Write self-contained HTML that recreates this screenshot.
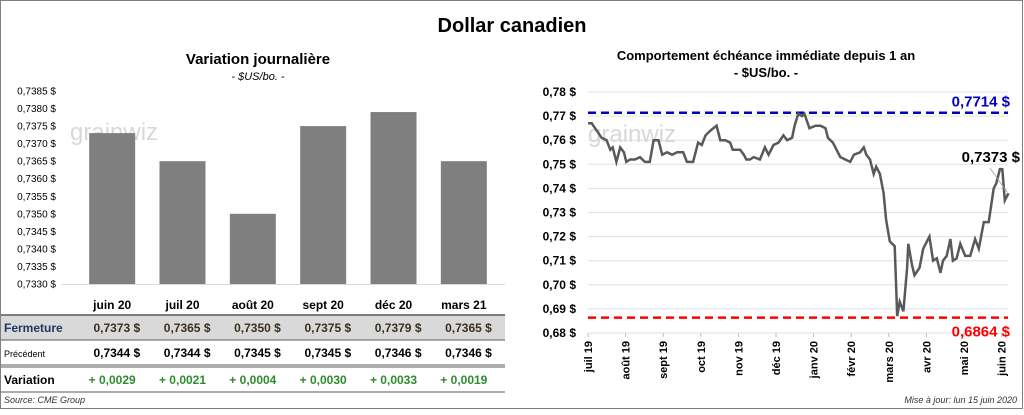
<!DOCTYPE html>
<html><head><meta charset="utf-8"><style>
body{margin:0;background:#fff;font-family:"Liberation Sans",sans-serif}
svg text{font-family:"Liberation Sans",sans-serif}
</style></head><body>
<svg id="s" width="1024" height="410" viewBox="0 0 1024 410" xmlns="http://www.w3.org/2000/svg">
<rect x="0.5" y="0.5" width="1022" height="408" fill="#fff" stroke="#7f7f7f"/>
<text x="512" y="32" text-anchor="middle" font-size="20" font-weight="bold">Dollar canadien</text>
<text x="258" y="64" text-anchor="middle" font-size="15" font-weight="bold">Variation  journalière</text>
<text x="258" y="80" text-anchor="middle" font-size="11" font-style="italic">- $US/bo. -</text>
<text x="766" y="60" text-anchor="middle" font-size="13" font-weight="bold">Comportement échéance immédiate depuis 1 an</text>
<text x="766" y="77" text-anchor="middle" font-size="13" font-weight="bold">- $US/bo. -</text>
<g id="left"></g>
<g id="right"></g>
<g id="table"></g>
<text x="4" y="403" font-size="9" font-style="italic" fill="#333">Source: CME Group</text>
<text x="1017" y="403" text-anchor="end" font-size="9" font-style="italic" fill="#333">Mise à jour: lun 15 juin 2020</text>
</svg>
<script>
const months=["juin 20","juil 20","août 20","sept 20","déc 20","mars 21"];
const closeVals=[0.7373,0.7365,0.7350,0.7375,0.7379,0.7365];
const prevVals=[0.7344,0.7344,0.7345,0.7345,0.7346,0.7346];
const changeVals=[0.0029,0.0021,0.0004,0.0030,0.0033,0.0019];
const leftTicks=[0.7330,0.7335,0.7340,0.7345,0.7350,0.7355,0.7360,0.7365,0.7370,0.7375,0.7380,0.7385];
const lineMonths=["juil 19","août 19","sept 19","oct 19","nov 19","déc 19","janv 20","févr 20","mars 20","avr 20","mai 20","juin 20"];
const lineDays=[0,3,7,11,15,18,20,23,26,29,31,34,38,42,46,50,53,57,60,64,68,72,77,80,85,89,92,95,99,104,107,111,115,117,123,126,128,131,134,139,143,146,150,154,158,161,165,167,170,173,175,179,184,188,192,194,198,204,208,212,215,220,223,225,228,231,233,236,239,241,244,248,250,252,255,258,259,262,264,268,271,274,276,279,282,285,287,290,293,295,298,301,305,309,313,316,320,324,328,330,333,335,337,340];
const lineVals=[0.767,0.767,0.764,0.761,0.760,0.756,0.757,0.751,0.757,0.755,0.751,0.752,0.752,0.753,0.751,0.751,0.760,0.760,0.754,0.755,0.754,0.755,0.755,0.751,0.751,0.759,0.758,0.762,0.764,0.766,0.760,0.760,0.759,0.756,0.756,0.754,0.752,0.752,0.753,0.752,0.757,0.754,0.758,0.759,0.762,0.760,0.761,0.766,0.771,0.770,0.771,0.765,0.766,0.766,0.765,0.761,0.759,0.753,0.752,0.751,0.754,0.755,0.757,0.754,0.752,0.746,0.749,0.746,0.738,0.727,0.718,0.716,0.687,0.693,0.689,0.707,0.717,0.708,0.704,0.707,0.715,0.718,0.720,0.710,0.711,0.705,0.710,0.712,0.719,0.710,0.711,0.717,0.712,0.712,0.719,0.715,0.726,0.726,0.740,0.742,0.748,0.748,0.735,0.738];
const rightTicks=[0.68,0.69,0.70,0.71,0.72,0.73,0.74,0.75,0.76,0.77,0.78];
const highVal=0.7714, lowVal=0.6864, lastVal=0.7373;

const NS="http://www.w3.org/2000/svg";
function mk(p,t,a,txt){const e=document.createElementNS(NS,t);for(const k in a)e.setAttribute(k,a[k]);if(txt!==undefined)e.textContent=txt;p.appendChild(e);return e;}
const fmt=(v,d)=>v.toFixed(d).replace('.',',');

// left chart
const L=document.getElementById('left');
const ly=v=>284-(v-0.7330)/0.0055*193;
const lx0=77,lx1=499,bw=(lx1-lx0)/months.length;
leftTicks.forEach(t=>{const e=mk(L,'text',{x:56,y:ly(t)+3.5,'text-anchor':'end','font-size':10},fmt(t,4)+' $');
});
mk(L,'text',{x:70,y:140,'font-size':24,fill:'#d8d8d8'},'grainwiz');
months.forEach((m,i)=>{const cx=lx0+bw*(i+0.5);
const b=mk(L,'rect',{x:cx-23,y:ly(closeVals[i]),width:46,height:284-ly(closeVals[i]),fill:'#7f7f7f'});

const t=mk(L,'text',{x:cx,y:309,'text-anchor':'middle','font-size':12,'font-weight':'bold'},m);
});
mk(L,'line',{x1:62,x2:505,y1:284.5,y2:284.5,stroke:'#d9d9d9'});

// table
const T=document.getElementById('table');
mk(T,'rect',{x:1,y:315,width:504,height:25,fill:'#d9d9d9'});
mk(T,'line',{x1:1,x2:505,y1:315,y2:315,stroke:'#595959','stroke-width':1.5});
mk(T,'line',{x1:1,x2:505,y1:340,y2:340,stroke:'#595959','stroke-width':1});
mk(T,'line',{x1:1,x2:505,y1:365,y2:365,stroke:'#595959','stroke-width':1});
mk(T,'line',{x1:1,x2:505,y1:367,y2:367,stroke:'#595959','stroke-width':1});
mk(T,'line',{x1:1,x2:505,y1:392,y2:392,stroke:'#595959','stroke-width':1});
let e=mk(T,'text',{x:4,y:332,'font-size':12,'font-weight':'bold',fill:'#1f3864'},'Fermeture');
e=mk(T,'text',{x:4,y:357,'font-size':9},'Précédent');
e=mk(T,'text',{x:4,y:384,'font-size':12,'font-weight':'bold'},'Variation');
months.forEach((m,i)=>{const cx=lx0+bw*(i+0.5);
let a=mk(T,'text',{x:cx+28,y:332,'text-anchor':'end','font-size':12,'font-weight':'bold',fill:'#3a3020'},fmt(closeVals[i],4)+'  $');

a=mk(T,'text',{x:cx+28,y:357,'text-anchor':'end','font-size':12,'font-weight':'bold'},fmt(prevVals[i],4)+'  $');

a=mk(T,'text',{x:cx,y:384,'text-anchor':'middle','font-size':12,'font-weight':'bold',fill:'#2e8b2e'},'+ '+fmt(changeVals[i],4));
});

// right chart
const R=document.getElementById('right');
const rx0=588,rx1=1008;
const ry=v=>333-(v-0.68)/0.10*241;
const step=37.6;
const rxd=d=>rx0+d/30.4*step;
rightTicks.forEach(t=>{mk(R,'line',{x1:rx0,x2:rx1,y1:ry(t),y2:ry(t),stroke:'#e0e0e0'});
const a=mk(R,'text',{x:576,y:ry(t)+4,'text-anchor':'end','font-size':12,'font-weight':'bold'},fmt(t,2)+' $');
});
mk(R,'text',{x:588,y:142,'font-size':24,fill:'#d8d8d8'},'grainwiz');
lineMonths.forEach((m,i)=>{const x=rx0+step*i;
mk(R,'line',{x1:x,x2:x,y1:333,y2:337,stroke:'#bfbfbf'});
const a=mk(R,'text',{x:x+4,y:341,'text-anchor':'end','font-size':11,'font-weight':'bold',transform:`rotate(-90 ${x+4} 341)`},m);
});
e=mk(R,'line',{x1:rx0,x2:rx1,y1:ry(highVal),y2:ry(highVal),stroke:'#0000c0','stroke-width':2.5,'stroke-dasharray':'8,5'});
e=mk(R,'line',{x1:rx0,x2:rx1,y1:ry(lowVal),y2:ry(lowVal),stroke:'#ff0000','stroke-width':2.5,'stroke-dasharray':'8,5'});
e=mk(R,'text',{x:1010,y:ry(highVal)-6,'text-anchor':'end','font-size':15,'font-weight':'bold',fill:'#0000c0'},fmt(highVal,4)+' $');
e=mk(R,'text',{x:1010,y:ry(lowVal)+19,'text-anchor':'end','font-size':15,'font-weight':'bold',fill:'#ff0000'},fmt(lowVal,4)+' $');
const pts=lineVals.map((v,i)=>rxd(lineDays[i]).toFixed(1)+','+ry(v).toFixed(1)).join(' ');
e=mk(R,'polyline',{points:pts,fill:'none',stroke:'#595959','stroke-width':2.5});

e=mk(R,'text',{x:1020,y:162,'text-anchor':'end','font-size':15,'font-weight':'bold'},fmt(lastVal,4)+' $');
mk(R,'line',{x1:990,y1:168,x2:1007,y2:192,stroke:'#a0a0a0','stroke-width':0.8});
</script>
</body></html>
